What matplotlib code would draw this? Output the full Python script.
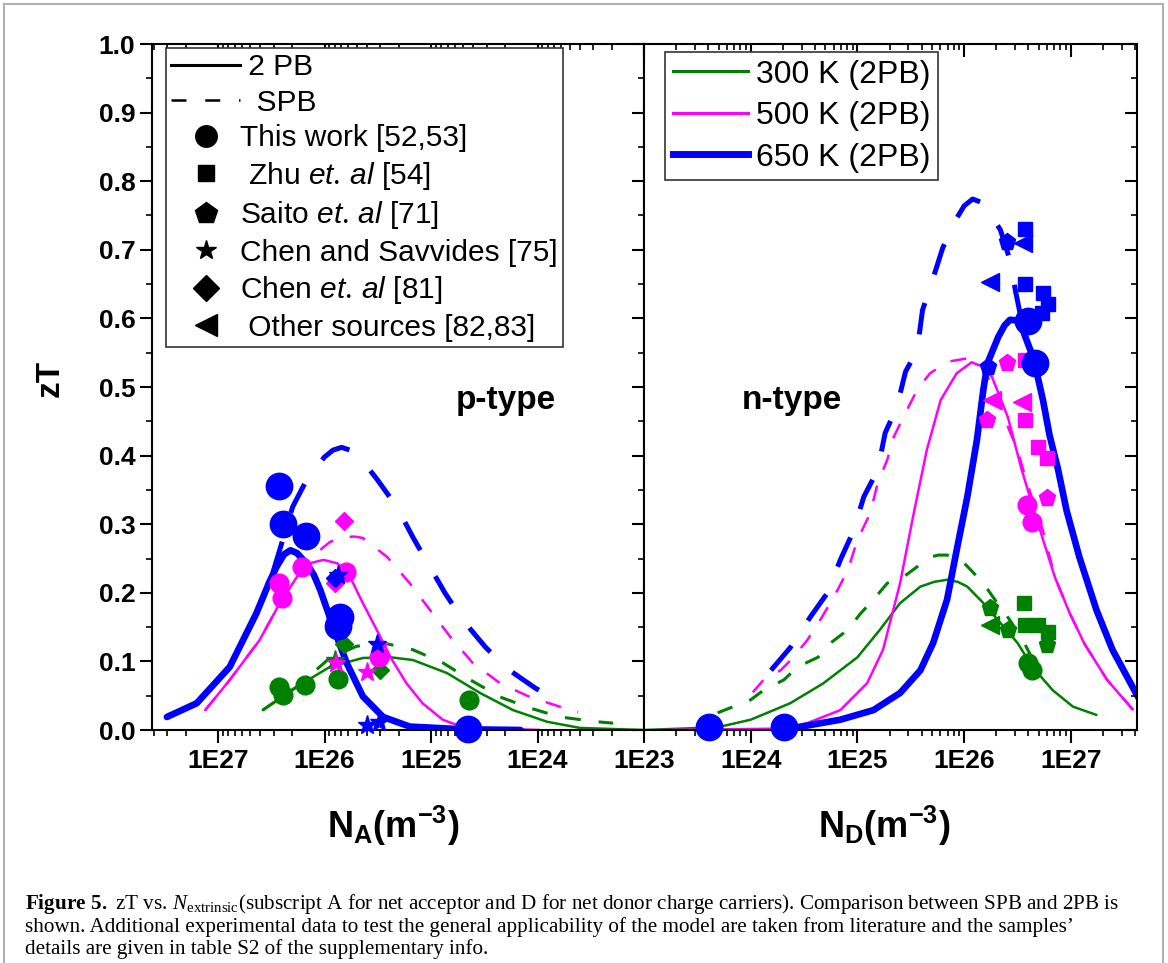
import numpy as np
import matplotlib
matplotlib.use('Agg')
from matplotlib import pyplot as plt
from matplotlib.lines import Line2D
from matplotlib.patches import Rectangle

plt.rcParams['font.family'] = ['Liberation Sans', 'DejaVu Sans']
plt.rcParams['mathtext.fontset'] = 'custom'
plt.rcParams['mathtext.rm'] = 'Liberation Serif'
plt.rcParams['mathtext.bf'] = 'Liberation Serif:bold'
plt.rcParams['mathtext.cal'] = 'Liberation Serif:italic'
plt.rcParams['mathtext.it'] = 'Liberation Sans:italic'
plt.rcParams['mathtext.sf'] = 'Liberation Sans:bold'

GREEN = '#008000'
MAGENTA = '#ff00ff'
BLUE = '#0000ff'

# ---- p-type model curves: log10(N_A), zT ----
p300_2pb_logn = [26.58, 26.26, 25.95, 25.64, 25.38, 25.17, 24.85, 24.54, 24.23, 23.91, 23.60, 23.0]
p300_2pb_zt = [0.029, 0.063, 0.092, 0.105, 0.106, 0.102, 0.083, 0.054, 0.029, 0.012, 0.003, 0.0]
p300_spb_logn = [26.58, 26.26, 25.95, 25.70, 25.45, 25.17, 24.89, 24.63, 24.35, 24.07, 23.79, 23.44, 23.29]
p300_spb_zt = [0.029, 0.063, 0.105, 0.122, 0.127, 0.117, 0.098, 0.073, 0.048, 0.032, 0.019, 0.012, 0.010]

p500_2pb_logn = [27.12, 26.89, 26.61, 26.42, 26.26, 26.14, 26.01, 25.88, 25.76, 25.64, 25.51, 25.38,
                 25.23, 25.08, 24.89, 24.70, 23.98]
p500_2pb_zt = [0.029, 0.073, 0.131, 0.185, 0.223, 0.243, 0.248, 0.243, 0.223, 0.185, 0.146, 0.106,
               0.068, 0.039, 0.015, 0.004, 0.0]
p500_spb_logn = [27.12, 26.89, 26.61, 26.42, 26.26, 26.10, 25.95, 25.83, 25.72, 25.64, 25.41, 25.20,
                 25.01, 24.82, 24.61, 24.35, 24.07, 23.79, 23.62]
p500_spb_zt = [0.029, 0.073, 0.131, 0.185, 0.222, 0.255, 0.274, 0.281, 0.282, 0.280, 0.252, 0.214,
               0.175, 0.136, 0.098, 0.068, 0.048, 0.034, 0.026]

p650_2pb_logn = [27.48, 27.20, 26.89, 26.64, 26.52, 26.45, 26.38, 26.32, 26.26, 26.17, 26.10, 26.04,
                 25.92, 25.79, 25.64, 25.45, 25.20, 24.70, 24.16]
p650_2pb_zt = [0.019, 0.039, 0.092, 0.170, 0.215, 0.238, 0.256, 0.262, 0.258, 0.243, 0.226, 0.204,
               0.151, 0.097, 0.049, 0.019, 0.005, 0.001, 0.0]
p650_spb_logn = [27.48, 27.20, 26.89, 26.64, 26.48, 26.30, 26.16, 26.00, 25.92, 25.84, 25.76, 25.67,
                 25.50, 25.32, 25.17, 25.03, 24.87, 24.70, 24.49, 24.29, 24.02, 23.77]
p650_spb_zt = [0.019, 0.039, 0.092, 0.170, 0.232, 0.325, 0.367, 0.398, 0.408, 0.412, 0.408, 0.398,
               0.364, 0.325, 0.281, 0.243, 0.200, 0.160, 0.121, 0.090, 0.061, 0.039]

# ---- n-type model curves: log10(N_D), zT ----
n300_2pb_logn = [23.0, 23.69, 24.0, 24.37, 24.68, 25.0, 25.21, 25.40, 25.59, 25.72, 25.84, 25.94,
                 26.03, 26.18, 26.34, 26.50, 26.64, 26.83, 27.02, 27.24]
n300_2pb_zt = [0.0, 0.004, 0.015, 0.039, 0.068, 0.106, 0.146, 0.185, 0.209, 0.216, 0.219, 0.216,
               0.209, 0.185, 0.156, 0.127, 0.092, 0.058, 0.034, 0.022]
n300_spb_logn = [23.69, 24.0, 24.12, 24.31, 24.44, 24.63, 24.75, 24.91, 25.03, 25.15, 25.28, 25.43,
                 25.56, 25.68, 25.76, 25.84, 25.99, 26.18, 26.31, 26.43, 26.57, 26.71]
n300_spb_zt = [0.025, 0.044, 0.058, 0.073, 0.092, 0.106, 0.127, 0.146, 0.170, 0.190, 0.214, 0.223,
               0.238, 0.252, 0.255, 0.255, 0.245, 0.214, 0.185, 0.160, 0.125, 0.082]

n500_2pb_logn = [23.16, 24.31, 24.53, 24.84, 25.09, 25.24, 25.40, 25.52, 25.65, 25.78, 25.93, 26.07,
                 26.17, 26.26, 26.41, 26.54, 26.69, 26.85, 26.99, 27.13, 27.34, 27.58]
n500_2pb_zt = [0.0, 0.002, 0.010, 0.029, 0.068, 0.117, 0.214, 0.310, 0.408, 0.481, 0.520, 0.536,
               0.530, 0.515, 0.456, 0.379, 0.302, 0.223, 0.170, 0.125, 0.073, 0.030]
n500_spb_logn = [24.02, 24.12, 24.28, 24.40, 24.53, 24.65, 24.78, 24.91, 25.0, 25.12, 25.19, 25.28,
                 25.34, 25.43, 25.56, 25.68, 25.85, 26.04, 26.17, 26.30, 26.41, 26.50, 26.59, 26.74,
                 26.85, 26.99, 27.13, 27.34, 27.58]
n500_spb_zt = [0.055, 0.073, 0.087, 0.106, 0.131, 0.160, 0.194, 0.233, 0.277, 0.316, 0.360, 0.394,
               0.427, 0.456, 0.496, 0.520, 0.537, 0.542, 0.529, 0.492, 0.442, 0.408, 0.360, 0.290,
               0.223, 0.170, 0.125, 0.073, 0.030]

n650_2pb_logn = [24.31, 24.44, 24.84, 25.15, 25.40, 25.59, 25.71, 25.84, 25.93, 26.03, 26.12, 26.18,
                 26.22, 26.32, 26.38, 26.43, 26.49, 26.54, 26.62, 26.66, 26.74, 26.80, 26.88, 26.96,
                 27.08, 27.24, 27.39, 27.63]
n650_2pb_zt = [0.002, 0.004, 0.015, 0.029, 0.054, 0.087, 0.127, 0.190, 0.262, 0.340, 0.423, 0.496,
               0.535, 0.573, 0.590, 0.598, 0.597, 0.587, 0.554, 0.535, 0.480, 0.430, 0.380, 0.320,
               0.252, 0.175, 0.117, 0.048]
n650_spb_logn = [24.19, 24.37, 24.56, 24.72, 24.84, 24.96, 25.06, 25.19, 25.26, 25.37, 25.45, 25.56,
                 25.61, 25.71, 25.80, 25.93, 26.00, 26.08, 26.18, 26.34, 26.43, 26.48, 26.56, 26.62,
                 26.74, 26.80, 26.88, 26.96, 27.08, 27.24, 27.39, 27.63]
n650_spb_zt = [0.087, 0.120, 0.165, 0.200, 0.248, 0.289, 0.340, 0.379, 0.433, 0.471, 0.522, 0.554,
               0.612, 0.659, 0.703, 0.746, 0.764, 0.774, 0.768, 0.729, 0.685, 0.641, 0.580, 0.554,
               0.480, 0.430, 0.380, 0.320, 0.252, 0.175, 0.117, 0.048]

# ---- experimental points: (log10 N, zT) ----
p_blue_circle = [(26.43, 0.355), (26.39, 0.301), (26.17, 0.283), (25.85, 0.165), (25.87, 0.151), (24.65, 0.002)]
p_blue_diamond = [(25.90, 0.221)]
p_blue_star = [(25.87, 0.226), (25.51, 0.126), (25.60, 0.007), (25.49, 0.012)]
p_mag_circle = [(26.43, 0.214), (26.40, 0.192), (26.21, 0.238), (25.80, 0.230), (25.49, 0.107)]
p_mag_diamond = [(25.82, 0.304), (25.90, 0.214)]
p_mag_star = [(25.89, 0.097), (25.60, 0.085), (25.49, 0.122)]
p_green_circle = [(26.43, 0.063), (26.39, 0.051), (26.18, 0.066), (25.87, 0.075), (24.64, 0.044)]
p_green_diamond = [(25.82, 0.126), (25.48, 0.087)]
p_green_star = [(25.90, 0.102)]

n_green_circle = [(26.60, 0.098), (26.64, 0.087)]
n_green_square = [(26.56, 0.185), (26.57, 0.153), (26.69, 0.153), (26.79, 0.143)]
n_green_pentagon = [(26.24, 0.178), (26.41, 0.146), (26.78, 0.124)]
n_green_triangle = [(26.24, 0.153)]
n_mag_circle = [(26.59, 0.328), (26.64, 0.303)]
n_mag_square = [(26.57, 0.539), (26.57, 0.452), (26.69, 0.413), (26.78, 0.397)]
n_mag_pentagon = [(26.40, 0.535), (26.21, 0.452), (26.78, 0.338)]
n_mag_triangle = [(26.26, 0.481), (26.54, 0.478)]
n_blue_circle = [(23.61, 0.004), (24.31, 0.004), (26.60, 0.596), (26.66, 0.535)]
n_blue_square = [(26.57, 0.730), (26.57, 0.650), (26.74, 0.637), (26.79, 0.621), (26.73, 0.608)]
n_blue_pentagon = [(26.40, 0.711), (26.22, 0.529)]
n_blue_triangle = [(26.55, 0.710), (26.24, 0.653)]

y_ticks = [0.0, 0.1, 0.2, 0.3, 0.4, 0.5, 0.6, 0.7, 0.8, 0.9, 1.0]
p_xticks = [1e27, 1e26, 1e25, 1e24, 1e23]
p_xlabels = ['1E27', '1E26', '1E25', '1E24', '1E23']
n_xticks = [1e24, 1e25, 1e26, 1e27]
n_xlabels = ['1E24', '1E25', '1E26', '1E27']

W, H = 1168, 963


def rect(x0, y0, x1, y1):
    return [x0 / W, 1 - y1 / H, (x1 - x0) / W, (y1 - y0) / H]


def curve(ax, logn, zt, color, lw, dashes=None):
    # dashes are given in units of the line width
    line, = ax.plot(10 ** np.array(logn), zt, color=color, lw=lw, solid_capstyle='round',
                    solid_joinstyle='round')
    if dashes:
        line.set_dashes(dashes)
        line.set_dash_capstyle('butt')
    return line


def points(ax, pts, marker, color, ms):
    arr = np.array(pts)
    ax.plot(10 ** arr[:, 0], arr[:, 1], ls='none', marker=marker, color=color,
            ms=ms, mec=color, clip_on=False, zorder=5)


def setup_axis(ax, xlim, xticks, xlabels, left_labels):
    ax.set_xscale('log')
    ax.set_xlim(*xlim)
    ax.set_ylim(0, 1.0)
    ax.set_xticks(xticks, xlabels, fontsize=19, fontweight='bold')
    ax.xaxis.set_minor_formatter(plt.NullFormatter())
    if left_labels:
        ax.set_yticks(y_ticks, ['%.1f' % v for v in y_ticks], fontsize=19, fontweight='bold')
        ax.tick_params(axis='y', which='both', direction='out')
    else:
        ax.set_yticks(y_ticks)
        ax.tick_params(axis='y', which='both', left=False, labelleft=False)
    ax.yaxis.set_minor_locator(plt.MultipleLocator(0.05))
    ax.tick_params(axis='x', which='both', direction='out', pad=5)
    ax.tick_params(axis='y', which='major', pad=3)
    ax.tick_params(which='major', length=9, width=1.5)
    ax.tick_params(which='minor', length=4, width=1.2)
    for s in ax.spines.values():
        s.set_linewidth(1.5)
    # inward ticks on top and right
    ov = fig.add_axes(ax.get_position(), frameon=False)
    ov.set_xscale('log')
    ov.set_xlim(*xlim)
    ov.set_ylim(0, 1.0)
    ov.set_xticks(xticks)
    ov.set_yticks(y_ticks)
    ov.yaxis.set_minor_locator(plt.MultipleLocator(0.05))
    ov.xaxis.tick_top()
    ov.yaxis.tick_right()
    ov.tick_params(which='both', direction='in', labeltop=False, labelright=False)
    ov.tick_params(which='major', length=9, width=1.5)
    ov.tick_params(which='minor', length=4, width=1.2)
    ov.xaxis.set_minor_formatter(plt.NullFormatter())


fig = plt.figure(figsize=(11.68, 9.63), dpi=100)
ax_p = fig.add_axes(rect(152, 44, 644, 730))
ax_n = fig.add_axes(rect(644, 44, 1137, 730))

# p-type panel
curve(ax_p, p300_2pb_logn, p300_2pb_zt, GREEN, 1.8)
curve(ax_p, p300_spb_logn, p300_spb_zt, GREEN, 2.2, (5.2, 5.9))
curve(ax_p, p500_2pb_logn, p500_2pb_zt, MAGENTA, 1.8)
curve(ax_p, p500_spb_logn, p500_spb_zt, MAGENTA, 1.8, (6.4, 6.8))
curve(ax_p, p650_2pb_logn, p650_2pb_zt, BLUE, 4.8)
curve(ax_p, p650_spb_logn, p650_spb_zt, BLUE, 3.6, (6.4, 6.0))

points(ax_p, p_green_circle, 'o', GREEN, 13.5)
points(ax_p, p_green_diamond, 'D', GREEN, 9)
points(ax_p, p_green_star, '*', GREEN, 14)
points(ax_p, p_mag_circle, 'o', MAGENTA, 13.5)
points(ax_p, p_mag_diamond, 'D', MAGENTA, 9.5)
points(ax_p, p_mag_star, '*', MAGENTA, 14)
points(ax_p, p_blue_circle, 'o', BLUE, 19)
points(ax_p, p_blue_diamond, 'D', BLUE, 9)
points(ax_p, p_blue_star, '*', BLUE, 14)

# n-type panel
curve(ax_n, n300_2pb_logn, n300_2pb_zt, GREEN, 1.8)
curve(ax_n, n300_spb_logn, n300_spb_zt, GREEN, 2.2, (5.2, 5.9))
curve(ax_n, n500_2pb_logn, n500_2pb_zt, MAGENTA, 1.8)
curve(ax_n, n500_spb_logn, n500_spb_zt, MAGENTA, 1.8, (6.4, 6.8))
curve(ax_n, n650_2pb_logn, n650_2pb_zt, BLUE, 4.8)
curve(ax_n, n650_spb_logn, n650_spb_zt, BLUE, 3.6, (6.4, 6.0))

points(ax_n, n_green_circle, 'o', GREEN, 13.5)
points(ax_n, n_green_square, 's', GREEN, 10.5)
points(ax_n, n_green_pentagon, 'p', GREEN, 12.5)
points(ax_n, n_green_triangle, '<', GREEN, 12.5)
points(ax_n, n_mag_circle, 'o', MAGENTA, 13.5)
points(ax_n, n_mag_square, 's', MAGENTA, 10.5)
points(ax_n, n_mag_pentagon, 'p', MAGENTA, 12.5)
points(ax_n, n_mag_triangle, '<', MAGENTA, 12.5)
points(ax_n, n_blue_circle, 'o', BLUE, 19)
points(ax_n, n_blue_square, 's', BLUE, 10.5)
points(ax_n, n_blue_pentagon, 'p', BLUE, 12.5)
points(ax_n, n_blue_triangle, '<', BLUE, 12.5)

setup_axis(ax_p, (10 ** 27.62, 1e23), p_xticks, p_xlabels, True)
setup_axis(ax_n, (1e23, 10 ** 27.62), n_xticks, n_xlabels, False)

ax_p.text(0.72, 0.48, 'p-type', transform=ax_p.transAxes, fontsize=24, fontweight='bold',
          ha='center', va='center')
ax_n.text(0.30, 0.48, 'n-type', transform=ax_n.transAxes, fontsize=24, fontweight='bold',
          ha='center', va='center')

fig.text(50 / W, 1 - 378 / H, 'zT', rotation=90, fontsize=24, fontweight='bold',
         ha='center', va='center')
fig.text(393 / W, 1 - 826 / H, r'$\mathsf{N_A(m^{-3})}$', fontsize=26, ha='center', va='center')
fig.text(884 / W, 1 - 826 / H, r'$\mathsf{N_D(m^{-3})}$', fontsize=26, ha='center', va='center')

# legends
left_handles = [
    Line2D([], [], color='k', lw=2.2),
    Line2D([], [], color='k', lw=1.8, dashes=(6, 7.5)),
    Line2D([], [], ls='none', marker='o', color='k', ms=15.5),
    Line2D([], [], ls='none', marker='s', color='k', ms=12),
    Line2D([], [], ls='none', marker='p', color='k', ms=16),
    Line2D([], [], ls='none', marker='*', color='k', ms=15),
    Line2D([], [], ls='none', marker='D', color='k', ms=13),
    Line2D([], [], ls='none', marker='<', color='k', ms=15.5),
]
left_labels = [' 2 PB', '  SPB', 'This work [52,53]', r' Zhu $\mathit{et.\,al}$ [54]',
               r'Saito $\mathit{et.\,al}$ [71]', 'Chen and Savvides [75]',
               r'Chen $\mathit{et.\,al}$ [81]', ' Other sources [82,83]']
leg1 = fig.legend(left_handles, left_labels, loc='upper left', bbox_to_anchor=(166 / W, 1 - 48 / H),
                  borderaxespad=0, fancybox=False, edgecolor='#333333', framealpha=1,
                  prop={'family': 'Liberation Sans', 'size': 21.5}, handlelength=2.3,
                  handletextpad=0.0, labelspacing=0.25, borderpad=0.18)
leg1.get_frame().set_linewidth(1.2)

right_handles = [
    Line2D([], [], color=GREEN, lw=2.2),
    Line2D([], [], color=MAGENTA, lw=2.2),
    Line2D([], [], color=BLUE, lw=5),
]
right_labels = ['300 K (2PB)', '500 K (2PB)', '650 K (2PB)']
leg2 = fig.legend(right_handles, right_labels, loc='upper left', bbox_to_anchor=(665 / W, 1 - 52 / H),
                  borderaxespad=0, fancybox=False, edgecolor='#333333', framealpha=1,
                  prop={'family': 'Liberation Sans', 'size': 23}, handlelength=2.35,
                  handletextpad=0.25, labelspacing=0.36, borderpad=0.24)
leg2.get_frame().set_linewidth(1.2)

# caption
caption = [
    r'$\mathbf{Figure\ 5.}$ zT vs. $\mathcal{N}_{\mathrm{extrinsic}}$(subscript A for net acceptor and D '
    r'for net donor charge carriers). Comparison between SPB and 2PB is',
    "shown. Additional experimental data to test the general applicability of the model are taken "
    "from literature and the samples\u2019",
    'details are given in table S2 of the supplementary info.',
]
for i, line in enumerate(caption):
    fig.text(25 / W, 1 - (909 + 22.5 * i) / H, line, family='Liberation Serif', fontsize=15.2,
             va='baseline', ha='left')

fig.patches.append(Rectangle((4 / W, -0.01), (1163 - 4) / W, 1.01 - 4 / H, transform=fig.transFigure,
                             fill=False, edgecolor='#b0b0b0', lw=1.5))

fig.savefig('out.png', dpi=100)
